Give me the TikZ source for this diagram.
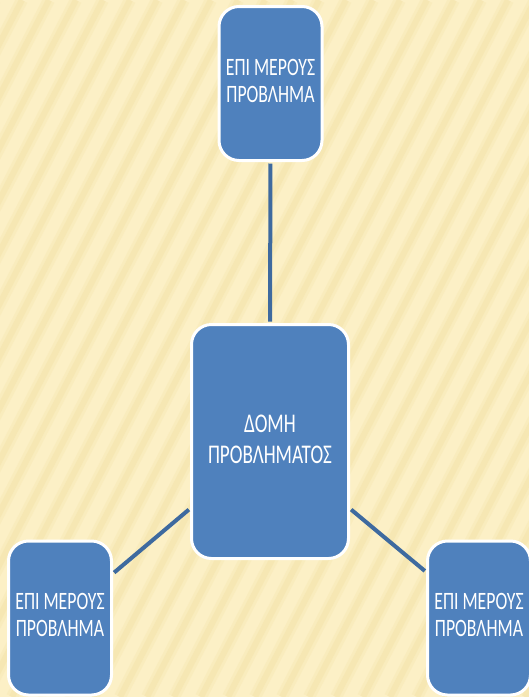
\documentclass[tikz,border=0pt]{standalone}
\usepackage{fontspec}
\setmainfont{Carlito}
\usepackage{graphicx}
\definecolor{bgyellow}{HTML}{FCF0C6}
\definecolor{stripe}{HTML}{F0DA98}
\definecolor{boxblue}{HTML}{4F81BD}
\definecolor{linkblue}{HTML}{3E6A9F}
\tikzset{
  box/.style={draw=white, line width=3pt, fill=boxblue, rounded corners=20pt,
    inner sep=0pt, text=white, align=center},
  smallbox/.style={box, minimum width=103pt, minimum height=154pt,
    font=\fontsize{25}{27}\selectfont},
  bigbox/.style={box, minimum width=157pt, minimum height=234pt,
    font=\fontsize{27}{31}\selectfont},
  link/.style={draw=linkblue, line width=4pt}
}
\begin{document}
\begin{tikzpicture}[x=1pt,y=-1pt]
\useasboundingbox (0,0) rectangle (529,697);
\begin{scope}
\clip (0,0) rectangle (529,697);
\fill[bgyellow] (0,0) rectangle (529,697);
\foreach \s in {-420,-393,...,540}{
  \draw[stripe, line width=12pt, opacity=0.18] (\s,697) -- ++(361,-697);
  \draw[stripe, line width=6pt, opacity=0.25] (\s,697) -- ++(361,-697);
}
\node[smallbox] (t) at (270.5,83.5) {\scalebox{0.71}[1]{\begin{tabular}{@{}c@{}}ΕΠΙ ΜΕΡΟΥΣ\\ΠΡΟΒΛΗΜΑ\end{tabular}}};
\node[bigbox] (c) at (270,441.5) {\scalebox{0.71}[1]{\begin{tabular}{@{}c@{}}ΔΟΜΗ\\ΠΡΟΒΛΗΜΑΤΟΣ\end{tabular}}};
\node[smallbox] (bl) at (60,618) {\scalebox{0.71}[1]{\begin{tabular}{@{}c@{}}ΕΠΙ ΜΕΡΟΥΣ\\ΠΡΟΒΛΗΜΑ\end{tabular}}};
\node[smallbox] (br) at (479,618) {\scalebox{0.71}[1]{\begin{tabular}{@{}c@{}}ΕΠΙ ΜΕΡΟΥΣ\\ΠΡΟΒΛΗΜΑ\end{tabular}}};
\draw[link, shorten <=1.5pt, shorten >=1.5pt] (t.south) -- (c.north);
\draw[link, shorten <=1.5pt, shorten >=1.5pt] (c.220) -- (bl.40);
\draw[link, shorten <=1.5pt, shorten >=1.5pt] (c.-40) -- (br.139);
\end{scope}
\end{tikzpicture}
\end{document}
